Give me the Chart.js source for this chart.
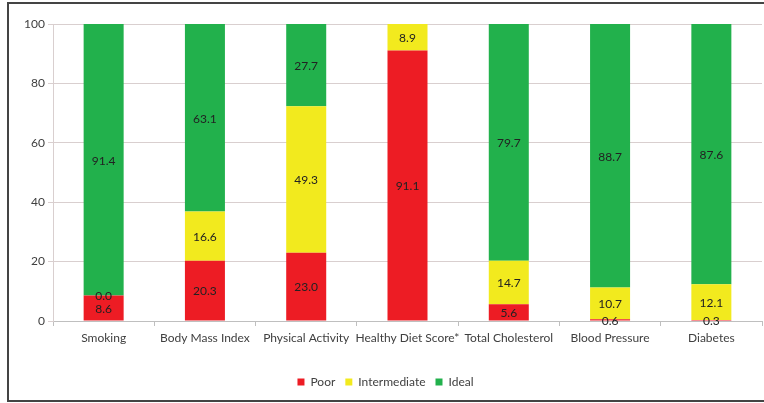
<!DOCTYPE html>
<html>
<head>
<meta charset="utf-8">
<script src="https://cdn.jsdelivr.net/npm/chart.js@4"></script>
<style>
  html, body { margin: 0; background: #fff; overflow: hidden; }
  #box {
    position: absolute; left: 7px; top: 2px;
    width: 755px; height: 396px;
    border-left: 2px solid #444; border-top: 2px solid #444; border-bottom: 2px solid #444;
  }
  #box canvas { display: block; }
</style>
</head>
<body>
<div id="box"><canvas id="chart" width="755" height="396"></canvas></div>
<script>
// categorias y valores (%)
const categories = ['Smoking', 'Body Mass Index', 'Physical Activity', 'Healthy Diet Score*', 'Total Cholesterol', 'Blood Pressure', 'Diabetes'];
const poor = [8.6, 20.3, 23.0, 91.1, 5.6, 0.6, 0.3];
const intermediate = [0.0, 16.6, 49.3, 8.9, 14.7, 10.7, 12.1];
const ideal = [91.4, 63.1, 27.7, null, 79.7, 88.7, 87.6];
const yTicks = [0, 20, 40, 60, 80, 100];

const FONT = 'Lato, "Open Sans", sans-serif';

// etiquetas dentro de cada segmento
const barLabels = {
    id: 'barLabels',
    afterDatasetsDraw(chart) {
        const ctx = chart.ctx;
        ctx.save();
        ctx.font = '12px ' + FONT;
        ctx.fillStyle = '#222';
        ctx.textAlign = 'center';
        ctx.textBaseline = 'middle';
        chart.data.datasets.forEach((ds, i) => {
            const meta = chart.getDatasetMeta(i);
            meta.data.forEach((bar, j) => {
                const v = ds.data[j];
                if (v === null || v === undefined) return;
                const p = bar.getProps(['x', 'y', 'base'], true);
                ctx.fillText(v.toFixed(1), p.x, (p.y + p.base) / 2 + 1);
            });
        });
        ctx.restore();
    }
};

new Chart(document.getElementById('chart'), {
    type: 'bar',
    data: {
        labels: categories,
        datasets: [
            { label: 'Poor', data: poor, backgroundColor: '#ED1C24' },
            { label: 'Intermediate', data: intermediate, backgroundColor: '#F2EA1E' },
            { label: 'Ideal', data: ideal, backgroundColor: '#22B14C' }
        ]
    },
    options: {
        responsive: false,
        animation: false,
        layout: { padding: { top: 20, right: 2, bottom: 2, left: 0 } },
        datasets: { bar: { categoryPercentage: 1, barPercentage: 0.395 } },
        plugins: {
            tooltip: { enabled: false },
            legend: {
                position: 'bottom',
                labels: { boxWidth: 7, boxHeight: 7, padding: 10, color: '#404040', font: { family: FONT, size: 12 } }
            }
        },
        scales: {
            x: {
                stacked: true,
                grid: { offset: true, drawOnChartArea: false, tickLength: 5, color: '#bfbfbf' },
                border: { color: '#bfbfbf' },
                ticks: { autoSkip: false, padding: 5, color: '#404040', font: { family: FONT, size: 12 }, maxRotation: 0 },
                afterFit(s) { s.height = 45; }
            },
            y: {
                stacked: true,
                min: 0, max: 100,
                afterBuildTicks(s) { s.ticks = yTicks.map(v => ({ value: v })); },
                grid: { color: '#d9cfcf', tickLength: 5 },
                border: { color: '#d9cfcf' },
                ticks: { padding: 3, color: '#404040', font: { family: FONT, size: 12 } },
                afterFit(s) { s.width = 44; }
            }
        }
    },
    plugins: [barLabels]
});
</script>
</body>
</html>
